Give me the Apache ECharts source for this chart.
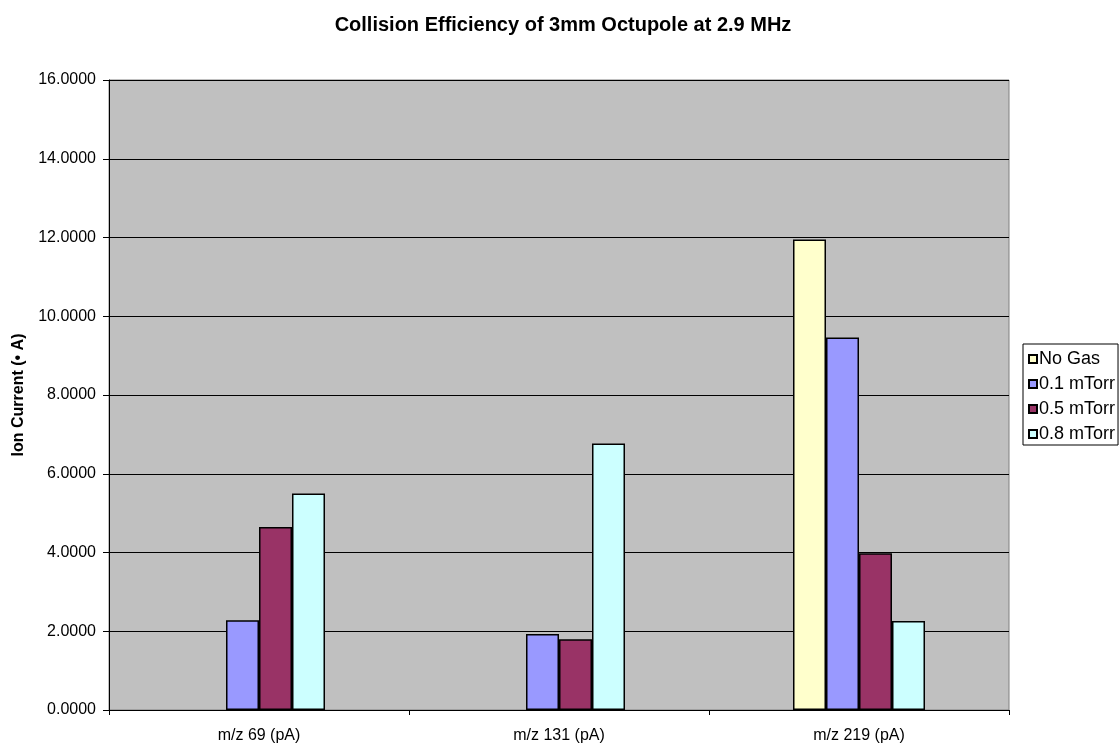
<!DOCTYPE html>
<html>
<head>
<meta charset="utf-8">
<title>Collision Efficiency</title>
<script src="https://cdn.jsdelivr.net/npm/echarts@6/dist/echarts.min.js"></script>
<style>
  html, body { margin: 0; padding: 0; background: #fff; }
  #chart { width: 1119px; height: 744px; }
</style>
</head>
<body>
<div id="chart"></div>
<script>
// categories and series values
const categories = ['m/z 69 (pA)', 'm/z 131 (pA)', 'm/z 219 (pA)'];
const noGas = [null, null, 11.95];
const torr01 = [2.28, 1.93, 9.46];
const torr05 = [4.65, 1.80, 3.98];
const torr08 = [5.50, 6.77, 2.26];
const seriesNames = ['No Gas', '0.1 mTorr', '0.5 mTorr', '0.8 mTorr'];
const seriesColors = ['#FFFFCC', '#9999FF', '#993366', '#CCFFFF'];

const chart = echarts.init(document.getElementById('chart'));

const makeBar = (name, data, color) => ({
  name,
  type: 'bar',
  data,
  barWidth: 33,
  barGap: '0%',
  itemStyle: {
    color,
    borderColor: '#000',
    borderWidth: 1.5,
  },
});

const option = {
  animation: false,
  textStyle: { fontFamily: 'Liberation Sans, Arial, sans-serif' },
  title: {
    text: 'Collision Efficiency of 3mm Octupole at 2.9 MHz',
    left: 558,
    top: 10,
    textAlign: 'center',
    textStyle: { fontSize: 20, fontWeight: 'bold', color: '#000' },
  },
  legend: {
    orient: 'vertical',
    left: 1023,
    top: 344,
    data: seriesNames,
    icon: 'rect',
    itemWidth: 8,
    itemHeight: 8,
    itemGap: 7,
    padding: [6, 3, 2, 5],
    borderColor: '#000',
    borderWidth: 1,
    textStyle: { fontSize: 18, color: '#000', padding: [0, 0, 0, -3] },
  },
  grid: {
    left: 109,
    right: 110,
    top: 80,
    bottom: 33,
    show: true,
    backgroundColor: '#C0C0C0',
    borderColor: '#808080',
    borderWidth: 1,
  },
  xAxis: {
    type: 'category',
    data: categories,
    axisLine: { lineStyle: { color: '#000', width: 1 } },
    axisTick: { show: true, length: 5, lineStyle: { color: '#000' } },
    axisLabel: { color: '#000', fontSize: 16, margin: 18 },
  },
  yAxis: {
    type: 'value',
    min: 0,
    max: 16,
    interval: 2,
    name: 'Ion Current (\u2022 A)',
    nameLocation: 'middle',
    nameGap: 82,
    nameTextStyle: { fontSize: 16, fontWeight: 'bold', color: '#000' },
    axisLine: { show: true, lineStyle: { color: '#000', width: 1 } },
    axisTick: { show: true, length: 6, lineStyle: { color: '#000' } },
    axisLabel: {
      color: '#000',
      fontSize: 16,
      margin: 13,
      formatter: (v) => v.toFixed(4),
    },
    splitLine: { lineStyle: { color: '#000', width: 1 } },
  },
  series: [
    makeBar(seriesNames[0], noGas, seriesColors[0]),
    makeBar(seriesNames[1], torr01, seriesColors[1]),
    makeBar(seriesNames[2], torr05, seriesColors[2]),
    makeBar(seriesNames[3], torr08, seriesColors[3]),
  ],
};

chart.setOption(option);
</script>
</body>
</html>
